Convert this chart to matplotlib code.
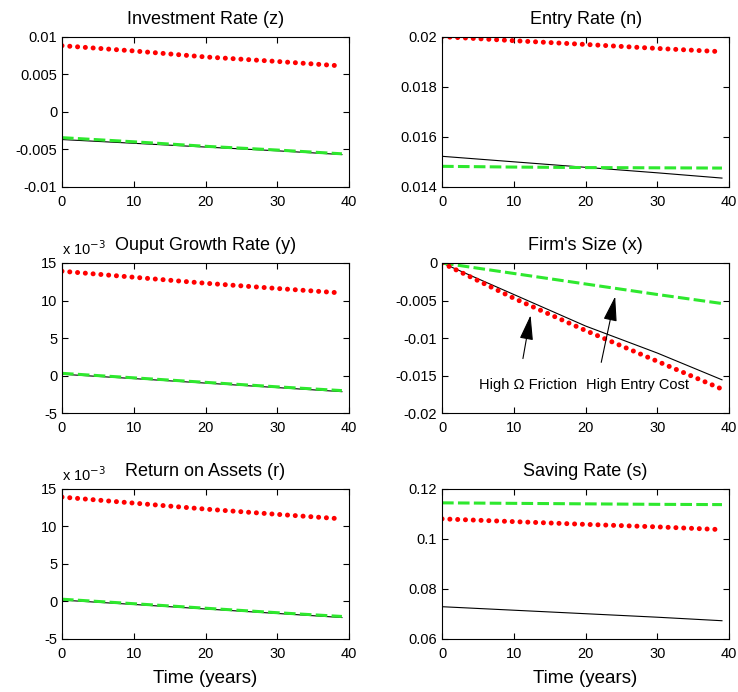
import numpy as np
import matplotlib
matplotlib.use('Agg')
import matplotlib.pyplot as plt
from matplotlib.ticker import FuncFormatter

plt.rcParams['font.family'] = ['Liberation Sans', 'DejaVu Sans']
plt.rcParams['axes.unicode_minus'] = False

t = [0, 10, 20, 30, 39]  # years

# Investment Rate (z)
z_base = [-0.0037, -0.0042, -0.0047, -0.0052, -0.0057]
z_entry = [-0.00345, -0.0040, -0.0046, -0.0051, -0.0056]
z_fric = [0.0088, 0.0081, 0.0073, 0.0067, 0.0061]
# Entry Rate (n)
n_base = [0.01522, 0.01500, 0.01478, 0.01456, 0.01435]
n_entry = [0.01482, 0.01479, 0.01477, 0.01476, 0.01475]
n_fric = [0.0200, 0.01984, 0.01969, 0.01953, 0.01940]
# Ouput Growth Rate (y)
y_base = [0.00018, -0.0004, -0.0010, -0.0016, -0.00214]
y_entry = [0.0003, -0.0003, -0.0009, -0.0015, -0.0020]
y_fric = [0.0139, 0.0131, 0.0123, 0.0116, 0.0110]
# Firm's Size (x)
x_base = [0.0, -0.0042, -0.0084, -0.0120, -0.01556]
x_entry = [0.0, -0.0014, -0.0028, -0.0042, -0.0054]
x_fric = [0.0, -0.0047, -0.0090, -0.0131, -0.0168]
# Return on Assets (r)
r_base = [0.00018, -0.0004, -0.0010, -0.0016, -0.00214]
r_entry = [0.0003, -0.0003, -0.0009, -0.0015, -0.0020]
r_fric = [0.0139, 0.0131, 0.0123, 0.0116, 0.0110]
# Saving Rate (s)
s_base = [0.0729, 0.0715, 0.0701, 0.0687, 0.0673]
s_entry = [0.1144, 0.1142, 0.1140, 0.1138, 0.1137]
s_fric = [0.1080, 0.1069, 0.1058, 0.1048, 0.1037]

panels = [
    ('Investment Rate (z)', z_base, z_entry, z_fric, [-0.01, -0.005, 0, 0.005, 0.01], False),
    ('Entry Rate (n)', n_base, n_entry, n_fric, [0.014, 0.016, 0.018, 0.02], False),
    ('Ouput Growth Rate (y)', y_base, y_entry, y_fric, [-0.005, 0, 0.005, 0.01, 0.015], True),
    ("Firm's Size (x)", x_base, x_entry, x_fric, [-0.02, -0.015, -0.01, -0.005, 0], False),
    ('Return on Assets (r)', r_base, r_entry, r_fric, [-0.005, 0, 0.005, 0.01, 0.015], True),
    ('Saving Rate (s)', s_base, s_entry, s_fric, [0.06, 0.08, 0.1, 0.12], False),
]

fig = plt.figure(figsize=(7.38, 6.92), dpi=100)
lefts = [0.084, 0.599]
bottoms = [0.730, 0.403, 0.0766]
w, h = 0.389, 0.217

for i, (title, base, entry, fric, yt, scaled) in enumerate(panels):
    ax = fig.add_axes([lefts[i % 2], bottoms[i // 2], w, h])
    ax.plot(t, base, color='k', lw=0.8)
    ax.plot(t, entry, color='#2ee82e', lw=2.2, dashes=(3.8, 1.4))
    ax.plot(t, fric, color='red', lw=3.6, dashes=(0.01, 1.55), dash_capstyle='round')
    ax.set_xlim(0, 40)
    ax.set_ylim(yt[0], yt[-1])
    ax.set_xticks([0, 10, 20, 30, 40])
    ax.set_yticks(yt)
    if scaled:
        ax.yaxis.set_major_formatter(FuncFormatter(lambda v, p: '%g' % round(v * 1e3, 6)))
        ax.text(0, 1.035, r'x 10$^{-3}$', transform=ax.transAxes, fontsize=10.5, ha='left', va='bottom')
    else:
        ax.yaxis.set_major_formatter(FuncFormatter(lambda v, p: '%g' % round(v, 6)))
    ax.tick_params(direction='in', top=True, right=True, labelsize=10.5, length=4, width=0.8)
    ax.tick_params(axis='x', pad=6)
    ax.set_title(title, fontsize=13, pad=9)
    if i >= 4:
        ax.set_xlabel('Time (years)', fontsize=13.5, labelpad=6)
    if i == 3:
        ap = dict(arrowstyle='-|>,head_length=1.1,head_width=0.3', color='k', lw=0.8, mutation_scale=14)
        ax.annotate('', xy=(12.4, -0.0066), xytext=(11.2, -0.0131), arrowprops=ap)
        ax.annotate('', xy=(24.2, -0.0041), xytext=(22.1, -0.0136), arrowprops=ap)
        ax.text(5.2, -0.0163, 'High \u03a9 Friction', fontsize=10.5, va='center')
        ax.text(20.1, -0.0163, 'High Entry Cost', fontsize=10.5, va='center')

fig.savefig('out.png', dpi=100)
